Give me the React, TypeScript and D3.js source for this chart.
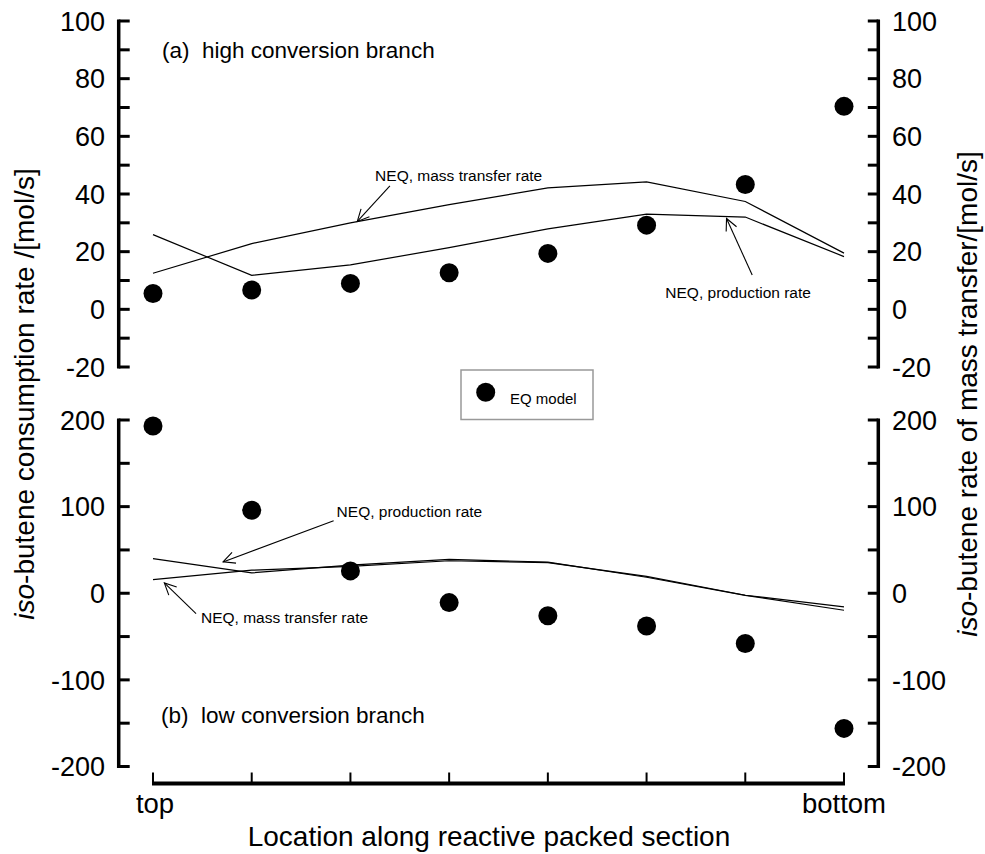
import React from "react";
import * as d3 from "d3";

// ---- data ----
const positions = [0, 1, 2, 3, 4, 5, 6, 7];
const xTickLabels = ["top", "bottom"];

// (a) high conversion branch
const topEQ = [5.5, 6.7, 9, 12.7, 19.4, 29.2, 43.3, 70.4];
const topMassTransfer = [12.5, 22.8, 30, 36.3, 42.1, 44.2, 37.4, 19.5];
const topProduction = [25.9, 11.8, 15.4, 21.4, 27.9, 33, 32, 18.3];

// (b) low conversion branch
const botEQ = [193, 95.8, 25.8, -10.8, -26, -37.7, -58, -156];
const botMassTransfer = [15.8, 26.6, 31, 37.5, 35.4, 19.5, -2.3, -15.8];
const botProduction = [40, 23.5, 32.5, 39, 36, 18.5, -2.5, -19.6];

const topMajor = [-20, 0, 20, 40, 60, 80, 100];
const topMinor = [-10, 10, 30, 50, 70, 90];
const botMajor = [-200, -100, 0, 100, 200];
const botMinor = [-150, -50, 50, 150];

const FONT = "'Liberation Sans', Arial, sans-serif";

export default function App() {
  const W = 985, H = 854;
  const xL = 118.7, xR = 878.3;
  const x = d3.scaleLinear().domain([0, 7]).range([153, 844]);
  const yTop = d3.scaleLinear().domain([-20, 100]).range([367, 21]);
  const yBot = d3.scaleLinear().domain([-200, 200]).range([766.5, 420]);

  const lineGen = (ys: d3.ScaleLinear<number, number>, vals: number[]) =>
    d3.line<number>().x((_, i) => x(positions[i])).y((d) => ys(d))(vals) || "";

  const arrow = (
    ys: d3.ScaleLinear<number, number>,
    tail: [number, number],
    tip: [number, number],
    key: string
  ) => {
    const x1 = x(tail[0]), y1 = ys(tail[1]);
    const x2 = x(tip[0]), y2 = ys(tip[1]);
    const ang = Math.atan2(y2 - y1, x2 - x1);
    const len = 13, spread = (26 * Math.PI) / 180;
    const a1x = x2 - len * Math.cos(ang - spread), a1y = y2 - len * Math.sin(ang - spread);
    const a2x = x2 - len * Math.cos(ang + spread), a2y = y2 - len * Math.sin(ang + spread);
    return (
      <g key={key} stroke="#000" strokeWidth={1.1} fill="none">
        <line x1={x1} y1={y1} x2={x2} y2={y2} />
        <polyline points={`${a1x},${a1y} ${x2},${y2} ${a2x},${a2y}`} />
      </g>
    );
  };

  const yAxis = (
    ys: d3.ScaleLinear<number, number>,
    major: number[],
    minor: number[],
    key: string
  ) => {
    const [d0, d1] = ys.domain();
    const all = [...major, ...minor];
    return (
      <g key={key}>
        {/* left axis */}
        <line x1={xL} x2={xL} y1={ys(d1) - 1.5} y2={ys(d0) + 1.5} stroke="#000" strokeWidth={3.5} />
        {all.map((t) => (
          <line key={"l" + t} x1={xL} x2={xL + 11} y1={ys(t)} y2={ys(t)} stroke="#000" strokeWidth={3} />
        ))}
        {major.map((t) => (
          <text key={"lt" + t} x={105} y={ys(t)} dy="0.36em" textAnchor="end" fontSize={27} fontFamily={FONT}>
            {t}
          </text>
        ))}
        {/* right axis */}
        <line x1={xR} x2={xR} y1={ys(d1) - 1.5} y2={ys(d0) + 1.5} stroke="#000" strokeWidth={3.5} />
        {all.map((t) => (
          <line key={"r" + t} x1={xR - 10.5} x2={xR} y1={ys(t)} y2={ys(t)} stroke="#000" strokeWidth={3} />
        ))}
        {major.map((t) => (
          <text key={"rt" + t} x={892} y={ys(t)} dy="0.36em" textAnchor="start" fontSize={27} fontFamily={FONT}>
            {t}
          </text>
        ))}
      </g>
    );
  };

  const xAxisY = 783.5;

  return (
    <svg width={W} height={H} style={{ display: "block", position: "absolute", left: 0, top: 0 }}>
      <rect width={W} height={H} fill="#fff" />
      {yAxis(yTop, topMajor, topMinor, "top")}
      {yAxis(yBot, botMajor, botMinor, "bot")}

      {/* x axis */}
      <line x1={x(0) - 1} x2={x(7) + 1} y1={xAxisY} y2={xAxisY} stroke="#000" strokeWidth={4} />
      {positions.map((p) => (
        <line key={"xt" + p} x1={x(p)} x2={x(p)} y1={xAxisY} y2={xAxisY - 11} stroke="#000" strokeWidth={2} />
      ))}
      <text x={x(0) + 2} y={813} textAnchor="middle" fontSize={27.5} fontFamily={FONT}>{xTickLabels[0]}</text>
      <text x={x(7)} y={813} textAnchor="middle" fontSize={27.5} fontFamily={FONT}>{xTickLabels[1]}</text>
      <text x={489} y={846} textAnchor="middle" fontSize={28} fontFamily={FONT}>
        Location along reactive packed section
      </text>

      {/* y titles */}
      <text transform="translate(34,394) rotate(-90)" textAnchor="middle" fontSize={28} fontFamily={FONT}>
        <tspan fontStyle="italic">iso</tspan>-butene consumption rate /[mol/s]
      </text>
      <text transform="translate(977,394) rotate(-90)" textAnchor="middle" fontSize={28} fontFamily={FONT}>
        <tspan fontStyle="italic">iso</tspan>-butene rate of mass transfer/[mol/s]
      </text>

      {/* panel labels */}
      <text x={162} y={58} fontSize={22.5} fontFamily={FONT} xmlSpace="preserve">(a)  high conversion branch</text>
      <text x={161} y={723} fontSize={22.5} fontFamily={FONT} xmlSpace="preserve">(b)  low conversion branch</text>

      {/* top panel lines */}
      <path d={lineGen(yTop, topMassTransfer)} fill="none" stroke="#000" strokeWidth={1.2} />
      <path d={lineGen(yTop, topProduction)} fill="none" stroke="#000" strokeWidth={1.2} />
      {topEQ.map((v, i) => (
        <circle key={"te" + i} cx={x(positions[i])} cy={yTop(v)} r={9.5} fill="#000" />
      ))}

      {/* bottom panel lines */}
      <path d={lineGen(yBot, botMassTransfer)} fill="none" stroke="#000" strokeWidth={1.2} />
      <path d={lineGen(yBot, botProduction)} fill="none" stroke="#000" strokeWidth={1.2} />
      {botEQ.map((v, i) => (
        <circle key={"be" + i} cx={x(positions[i])} cy={yBot(v)} r={9.5} fill="#000" />
      ))}

      {/* annotations */}
      {arrow(yTop, [2.4, 42.8], [2.07, 30.5], "a1")}
      <text x={x(2.25)} y={yTop(44.6)} fontSize={15.5} fontFamily={FONT}>NEQ, mass transfer rate</text>
      {arrow(yTop, [6.07, 11.9], [5.81, 31.5], "a2")}
      <text x={x(5.19)} y={yTop(4.1)} fontSize={15.5} fontFamily={FONT}>NEQ, production rate</text>
      {arrow(yBot, [1.83, 83.6], [0.71, 36.2], "a3")}
      <text x={x(1.86)} y={yBot(88.2)} fontSize={15.5} fontFamily={FONT}>NEQ, production rate</text>
      {arrow(yBot, [0.436, -23.5], [0.115, 11.9], "a4")}
      <text x={x(0.486)} y={yBot(-34.7)} fontSize={15.5} fontFamily={FONT}>NEQ, mass transfer rate</text>

      {/* legend */}
      <rect x={461} y={370} width={132} height={49.5} fill="#fff" stroke="#999" strokeWidth={1.5} />
      <circle cx={485.7} cy={392.3} r={9.5} fill="#000" />
      <text x={510} y={404} fontSize={15} fontFamily={FONT}>EQ model</text>
    </svg>
  );
}
